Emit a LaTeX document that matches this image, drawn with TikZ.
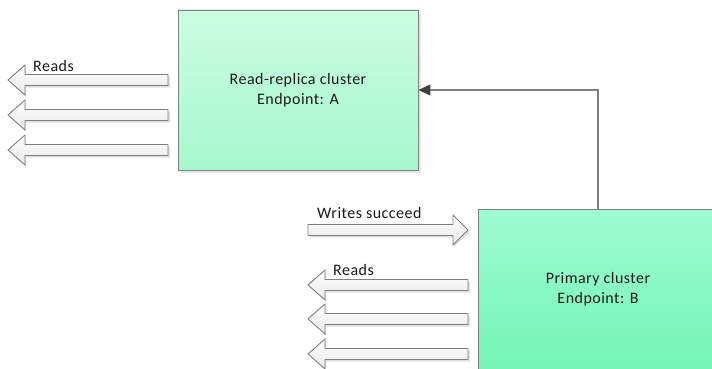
\documentclass[tikz,border=0pt]{standalone}
\usepackage{fontspec}
\setmainfont{Carlito}[LetterSpace=3]
\usetikzlibrary{arrows.meta}
\definecolor{edgegray}{HTML}{7F7F7F}
\definecolor{headgray}{HTML}{404040}
\definecolor{txt}{HTML}{1A1A1A}
\definecolor{atop}{HTML}{CBFDE2}
\definecolor{abot}{HTML}{A6F7CE}
\definecolor{btop}{HTML}{9DFCD2}
\definecolor{bbot}{HTML}{74F5B6}
\tikzset{
  cluster/.style={draw=edgegray, line width=0.9pt, minimum width=240pt, minimum height=160pt,
    align=center, font=\fontsize{16}{20}\selectfont, text=txt, inner sep=0pt},
  lbl/.style={font=\fontsize{16}{20}\selectfont, text=txt, inner sep=0pt, anchor=base west},
  blk/.style={draw=edgegray, line width=0.9pt, top color=white, bottom color=black!9, line join=miter},
  shad/.style={fill=black!12, draw=none},
  conn/.style={draw=edgegray, line width=1.3pt, -{Triangle[length=12pt,width=11pt,color=headgray]}},
  pics/larrow/.style={code={
    \fill[shad] (2,-3.5) -- (18,-13) -- (18,-3.5) -- (162,-3.5) -- (162,7.5) -- (18,7.5) -- (18,17) -- cycle;
    \path[blk] (0,0) -- (17,-15) -- (17,-5.5) -- (160,-5.5) -- (160,5.5) -- (17,5.5) -- (17,15) -- cycle;
  }},
  pics/rarrow/.style={code={
    \fill[shad] (162,2) -- (146,-13) -- (146,-3.5) -- (2,-3.5) -- (2,7.5) -- (146,7.5) -- (146,17) -- cycle;
    \path[blk] (160,0) -- (145,-15) -- (145,-5.5) -- (0,-5.5) -- (0,5.5) -- (145,5.5) -- (145,15) -- cycle;
  }}
}
\begin{document}
\begin{tikzpicture}[x=1pt,y=-1pt]
\useasboundingbox (0,0) rectangle (712,369);
\clip (0,0) rectangle (712,369);
% shadows of clusters
\fill[black!10] (181,13) rectangle (421,173);
\fill[black!10] (481,212) rectangle (721,380);
\node[cluster, top color=atop, bottom color=abot] (A) at (298,90) {Read-replica cluster\\Endpoint: A};
\node[cluster, top color=btop, bottom color=bbot] (B) at (598,289) {Primary cluster\\Endpoint: B};
% left read arrows
\pic at (8,80) {larrow};
\pic at (8,115) {larrow};
\pic at (8,150) {larrow};
\node[lbl] (r1) at (33,71) {Reads};
% writes arrow
\pic at (308,230) {rarrow};
\node[lbl] (w) at (317,218) {Writes succeed};
% bottom read arrows
\pic at (308,285) {larrow};
\pic at (308,319) {larrow};
\pic at (308,354) {larrow};
\node[lbl] (r2) at (333,275) {Reads};
% replication connector
\draw[conn] (B.north) |- (A.east);
\end{tikzpicture}
\end{document}
